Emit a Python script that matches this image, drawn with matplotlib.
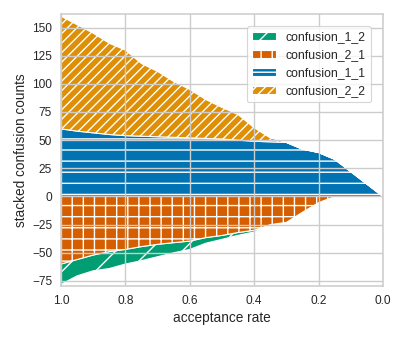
import matplotlib
matplotlib.use('Agg')
import matplotlib.pyplot as plt
import numpy as np

# acceptance rate grid (every 0.05)
acceptance = [1.0, 0.95, 0.9, 0.85, 0.8, 0.75, 0.7, 0.65, 0.6, 0.55, 0.5,
              0.45, 0.4, 0.35, 0.3, 0.25, 0.2, 0.15, 0.1, 0.05, 0.0]

confusion_1_1 = [60, 58, 56.5, 55, 54, 53.5, 53, 52.5, 52, 51.5, 51,
                 50, 49, 48.5, 48, 42, 39, 33, 22, 11, 0]
confusion_2_2 = [100, 94.5, 88.5, 81, 76, 64.5, 58, 49.5, 43, 34.5, 28,
                 22.7, 12, 3.5, 0, 0, 0, 0, 0, 0, 0]
confusion_2_1 = [60, 56, 52, 49, 47, 44.5, 42.5, 41, 39.6, 36.5, 34.6,
                 32, 30, 25, 23, 14, 5.5, 0, 0, 0, 0]
confusion_1_2 = [18, 14.5, 14, 15, 13, 12.5, 11, 9, 7.4, 5, 3.5,
                 2.5, 1.5, 0, 0, 0, 0, 0, 0, 0, 0]

COLORS = {'confusion_1_2': '#029e73', 'confusion_2_1': '#d55e00',
          'confusion_1_1': '#0173b2', 'confusion_2_2': '#de8f05'}

DPI = 200
plt.rcParams['font.family'] = ['Liberation Sans', 'DejaVu Sans']
plt.rcParams['hatch.linewidth'] = 0.5
plt.rcParams['text.color'] = '.15'
plt.rcParams['axes.labelcolor'] = '.15'
plt.rcParams['xtick.color'] = '.15'
plt.rcParams['ytick.color'] = '.15'

x = np.array(acceptance)
c11 = np.array(confusion_1_1)
c22 = np.array(confusion_2_2)
c21 = np.array(confusion_2_1)
c12 = np.array(confusion_1_2)

fig = plt.figure(figsize=(407 / DPI, 339 / DPI), dpi=DPI)
ax = fig.add_axes([61 / 407, 1 - 286 / 339, 322 / 407, 272 / 339])

kw = dict(edgecolor='white', linewidth=0.4)
# negative side: false counts
ax.fill_between(x, -c21, -(c21 + c12), facecolor=COLORS['confusion_1_2'],
                hatch='//', label='confusion_1_2', **kw)
ax.fill_between(x, 0, -c21, facecolor=COLORS['confusion_2_1'],
                hatch='+++', label='confusion_2_1', **kw)
# positive side: true counts
ax.fill_between(x, 0, c11, facecolor=COLORS['confusion_1_1'],
                hatch='---', label='confusion_1_1', **kw)
ax.fill_between(x, c11, c11 + c22, facecolor=COLORS['confusion_2_2'],
                hatch='///////', label='confusion_2_2', **kw)

ax.set_xlim(1.0, 0.0)
ax.set_ylim(-79.5, 162)
ax.set_xticks([1.0, 0.8, 0.6, 0.4, 0.2, 0.0])
ax.set_yticks([-75, -50, -25, 0, 25, 50, 75, 100, 125, 150])

ax.set_facecolor('white')
ax.grid(True, color='.8', linewidth=0.5)
ax.set_axisbelow(False)
for sp in ax.spines.values():
    sp.set_color('.8')
    sp.set_linewidth(0.55)
ax.tick_params(length=0, pad=3.2, labelsize=4.3)

ax.set_xlabel('acceptance rate', fontsize=4.9, labelpad=1.5)
ax.set_ylabel('stacked confusion counts', fontsize=4.9, labelpad=1.5)

leg = ax.legend(loc='upper right', fontsize=4.4, frameon=True,
                borderaxespad=1.0)
leg.get_frame().set_edgecolor('.8')
leg.get_frame().set_linewidth(0.4)

fig.savefig('out.png', dpi=DPI)
